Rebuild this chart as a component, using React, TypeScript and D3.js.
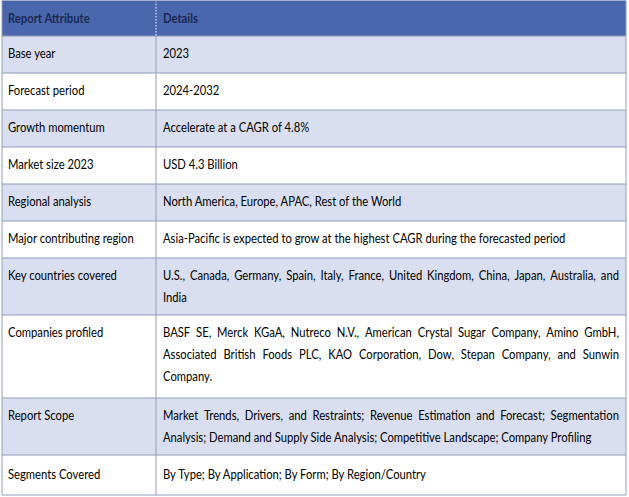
import React, { useMemo } from "react";
import * as d3 from "d3";

const headers = ["Report Attribute", "Details"];
const attributes = [
  "Base year",
  "Forecast period",
  "Growth momentum",
  "Market size 2023",
  "Regional analysis",
  "Major contributing region",
  "Key countries covered",
  "Companies profiled",
  "Report Scope",
  "Segments Covered",
];
const detailLines: string[][] = [
  ["2023"],
  ["2024-2032"],
  ["Accelerate at a CAGR of 4.8%"],
  ["USD 4.3 Billion"],
  ["North America, Europe, APAC, Rest of the World"],
  ["Asia-Pacific is expected to grow at the highest CAGR during the forecasted period"],
  ["U.S., Canada, Germany, Spain, Italy, France, United Kingdom, China, Japan, Australia, and", "India"],
  [
    "BASF SE, Merck KGaA, Nutreco N.V., American Crystal Sugar Company, Amino GmbH,",
    "Associated British Foods PLC, KAO Corporation, Dow, Stepan Company, and Sunwin",
    "Company.",
  ],
  [
    "Market Trends, Drivers, and Restraints; Revenue Estimation and Forecast; Segmentation",
    "Analysis; Demand and Supply Side Analysis; Competitive Landscape; Company Profiling",
  ],
  ["By Type; By Application; By Form; By Region/Country"],
];

const W = 629;
const H = 497;
const FONT = "Lato";
const FS = 12.5;
const SX = 0.9;
const X0 = 2;
const X1 = 156;
const X2 = 626;
const TOP = 1;
const HEADER_H = 35;
const LINE_H = 22;
const PAD = 7.5;
const JUSTIFY_W = 456;

const HEADER_FILL = "#4a67ad";
const ALT_FILL = "#d9dff0";
const GRID = "#8f9cb8";

export default function App() {
  const measure = useMemo(() => {
    const c = document.createElement("canvas").getContext("2d")!;
    c.font = `${FS}px ${FONT}`;
    return (s: string) => c.measureText(s).width * SX;
  }, []);

  const n = detailLines.length;
  const heights = detailLines.map((l, i) => {
    let h = PAD * 2 + l.length * LINE_H;
    if (l.length === 2) h -= 2;
    if (l.length === 3) h += 2;
    if (i === n - 1) h += 3;
    return h;
  });
  const ys: number[] = [];
  let acc = TOP + HEADER_H;
  heights.forEach((h) => {
    ys.push(acc);
    acc += h;
  });
  const bottom = acc;

  const textStyle = { fontFamily: FONT, fontSize: FS };

  const renderLine = (line: string, x: number, y: number, justify: boolean, key: string) => {
    if (!justify) {
      return (
        <text key={key} transform={`translate(${x},${y}) scale(${SX},1)`} dominantBaseline="central" fill="#000" style={textStyle}>
          {line}
        </text>
      );
    }
    const words = line.split(" ");
    const widths = words.map(measure);
    const total = d3.sum(widths);
    const gap = (JUSTIFY_W - total) / (words.length - 1);
    let cx = x;
    return (
      <g key={key}>
        {words.map((w, i) => {
          const el = (
            <text key={i} transform={`translate(${cx},${y}) scale(${SX},1)`} dominantBaseline="central" fill="#000" style={textStyle}>
              {w}
            </text>
          );
          cx += widths[i] + gap;
          return el;
        })}
      </g>
    );
  };

  const firstLine = (i: number) => ys[i] + (detailLines[i].length === 1 ? heights[i] / 2 - 1 : 17.5);

  return (
    <svg width={W} height={H} style={{ position: "absolute", left: 0, top: 0, background: "#fff" }}>
      <rect x={X0} y={TOP} width={X2 - X0} height={HEADER_H} fill={HEADER_FILL} />
      {attributes.map((a, i) => (
        <rect key={"bg" + i} x={X0} y={ys[i]} width={X2 - X0} height={heights[i]} fill={i % 2 === 0 ? ALT_FILL : "#fff"} />
      ))}
      {ys.map((y, i) => (
        <line key={"h" + i} x1={X0} x2={X2} y1={y} y2={y} stroke={GRID} strokeWidth={1} />
      ))}
      <line x1={X0} x2={X2} y1={bottom} y2={bottom} stroke={GRID} />
      <line x1={X0} x2={X0} y1={TOP} y2={bottom} stroke={GRID} />
      <line x1={X2} x2={X2} y1={TOP} y2={bottom} stroke={GRID} />
      <line x1={X1} x2={X1} y1={TOP + HEADER_H} y2={bottom} stroke={GRID} />
      <line x1={X1} x2={X1} y1={TOP} y2={TOP + HEADER_H} stroke="#fff" strokeDasharray="1.5,1.5" strokeWidth={1} />
      <line x1={X0} x2={X2} y1={TOP} y2={TOP} stroke="#47609e" />
      {headers.map((h, i) => (
        <text
          key={"hd" + i}
          transform={`translate(${i === 0 ? 8 : 163},${TOP + HEADER_H / 2}) scale(${SX},1)`}
          dominantBaseline="central"
          fill="#1b2754"
          style={{ ...textStyle, fontWeight: 700 }}
        >
          {h}
        </text>
      ))}
      {attributes.map((a, i) => renderLine(a, 8, firstLine(i), false, "a" + i))}
      {detailLines.map((lines, i) =>
        lines.map((l, j) =>
          renderLine(l, 163, firstLine(i) + j * LINE_H, lines.length > 1 && j < lines.length - 1, `d${i}-${j}`)
        )
      )}
    </svg>
  );
}
